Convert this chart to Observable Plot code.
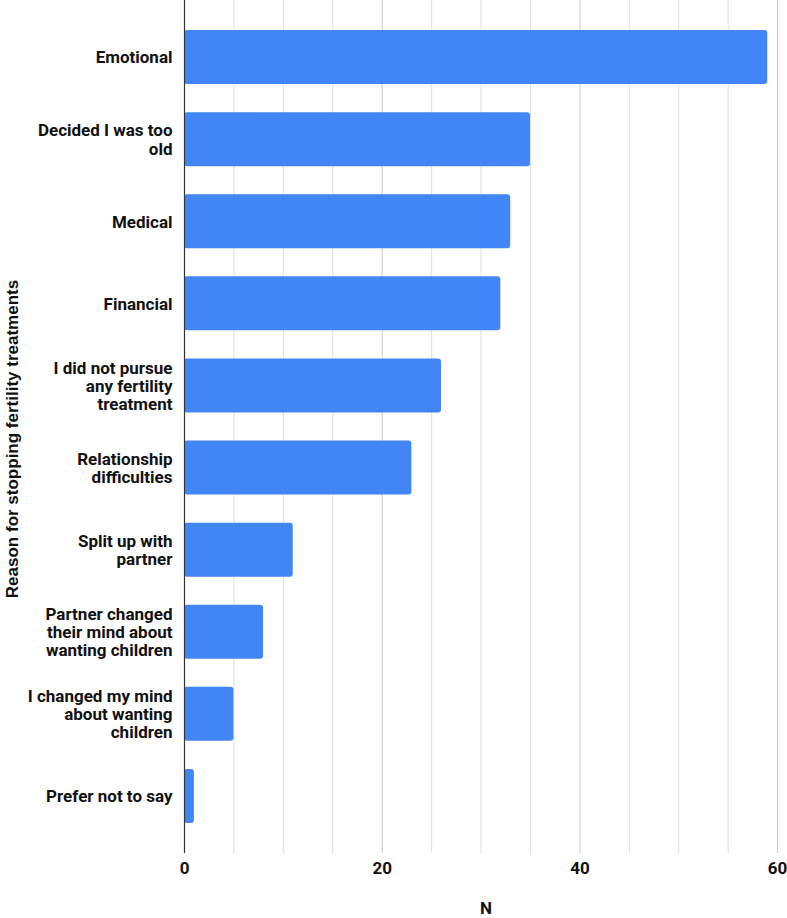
<!DOCTYPE html>
<html>
<head>
<meta charset="utf-8">
<script src="https://cdn.jsdelivr.net/npm/d3@7"></script>
<script src="https://cdn.jsdelivr.net/npm/@observablehq/plot@0.6"></script>
<style>
  body { margin: 0; background: #fff; }
</style>
</head>
<body>
<div id="chart"></div>
<script>
const categories = [
  "Emotional",
  "Decided I was too\nold",
  "Medical",
  "Financial",
  "I did not pursue\nany fertility\ntreatment",
  "Relationship\ndifficulties",
  "Split up with\npartner",
  "Partner changed\ntheir mind about\nwanting children",
  "I changed my mind\nabout wanting\nchildren",
  "Prefer not to say"
];
const counts = [59, 35, 33, 32, 26, 23, 11, 8, 5, 1];
const xTickLabels = [0, 20, 40, 60];
const gridValues = [5, 10, 15, 20, 25, 30, 35, 40, 45, 50, 55, 60];
const yTitle = "Reason for stopping fertility treatments";
const xTitle = "N";

const data = categories.map((c, i) => ({category: c, n: counts[i]}));

const chart = Plot.plot({
  width: 787,
  height: 918,
  marginTop: 0,
  marginBottom: 65,
  marginLeft: 184,
  marginRight: 0,
  style: {fontFamily: "Roboto, 'Open Sans', sans-serif", fontSize: "17px", background: "#fff"},
  x: {domain: [0, 61], label: null},
  y: {domain: categories, paddingInner: 0.342, paddingOuter: 0.366, round: false, label: null},
  marks: [
    Plot.gridX(gridValues, {stroke: d => d % 20 === 0 ? "#c8c8c8" : "#dedede", strokeOpacity: 1, strokeWidth: 1}),
    Plot.barX(data, {x: "n", y: "category", fill: "#4285F4", rx: 3}),
    Plot.ruleX([0], {stroke: "#333", strokeWidth: 1.2}),
    Plot.axisX(xTickLabels, {tickSize: 0, tickPadding: 8, fontWeight: "bold", fill: "#111", fontSize: 17, label: null}),
    Plot.axisY({tickSize: 0, tickPadding: 12, fontWeight: "bold", fill: "#111", fontSize: 17, lineHeight: 1.07, label: null}),
    Plot.text([yTitle], {frameAnchor: "left", textAnchor: "middle", rotate: -90, dx: -172, dy: 12, fontWeight: "bold", fill: "#111", fontSize: 17, fontFamily: "'Liberation Sans', Arial, sans-serif"}),
    Plot.text([xTitle], {frameAnchor: "bottom", dy: 60, fontWeight: "bold", fill: "#111", fontSize: 17})
  ]
});
document.getElementById("chart").append(chart);
</script>
</body>
</html>
